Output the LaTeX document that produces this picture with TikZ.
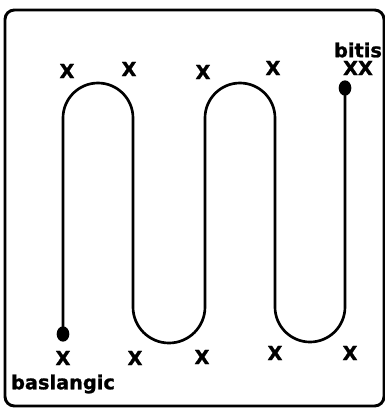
\documentclass[tikz,border=0pt]{standalone}
\usepackage{fontspec}
\setmainfont{DejaVu Sans}
\newfontfamily\heavyfont{DejaVu Sans Bold}[FakeBold=1.3]
\usetikzlibrary{shapes.geometric}
\begin{document}
\begin{tikzpicture}[x=0.75pt,y=-0.75pt,
  lbl/.style={font=\heavyfont\fontsize{14.5}{16}\selectfont, inner sep=0pt},
  wire/.style={line width=2pt},
  dot/.style={fill=black, ellipse, minimum width=9.5pt, minimum height=11.5pt, inner sep=0pt}]
\useasboundingbox (0,0) rectangle (385,408);
\draw[line width=2.2pt, rounded corners=7pt] (5,10) rectangle (384,406);
% end dots
\node[dot] (start) at (63,334) {};
\node[dot] (end) at (345,88) {};
% serpentine path
\draw[wire] (start.center) -- (63,118) arc[start angle=180, end angle=360, radius=35] -- (133,307)
  arc[start angle=180, end angle=0, radius=36] -- (205,118)
  arc[start angle=180, end angle=360, radius=35] -- (275,307)
  arc[start angle=180, end angle=0, radius=35] -- (end.center);
% top labels
\node[lbl] (t1) at (67,71) {X};
\node[lbl] (t2) at (129,69) {X};
\node[lbl] (t3) at (203,72) {X};
\node[lbl] (t4) at (273,68) {X};
\node[lbl] (t5) at (358,68) {XX};
\node[lbl] (bitis) at (358,50) {bitis};
% bottom labels
\node[lbl] (b1) at (63,358) {X};
\node[lbl] (b2) at (135,358) {X};
\node[lbl] (b3) at (202,357) {X};
\node[lbl] (b4) at (275,353) {X};
\node[lbl] (b5) at (350,353) {X};
\node[lbl] (bas) at (63,384) {baslangic};
\end{tikzpicture}
\end{document}
